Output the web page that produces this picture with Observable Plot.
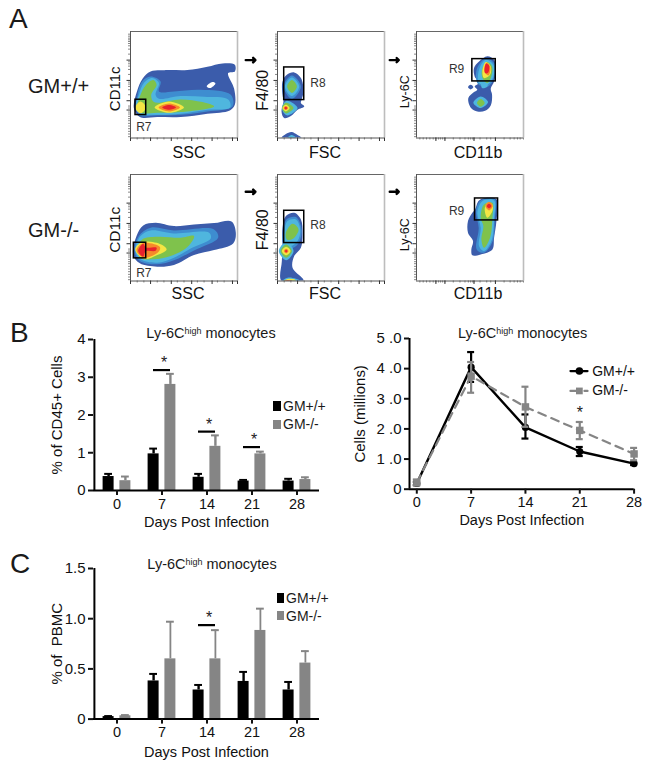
<!DOCTYPE html>
<html><head><meta charset="utf-8">
<script src="https://cdn.jsdelivr.net/npm/d3@7"></script>
<script src="https://cdn.jsdelivr.net/npm/@observablehq/plot@0.6"></script>
<style>
html,body{margin:0;padding:0;background:#fff;}
#page{position:relative;width:650px;height:768px;overflow:hidden;font-family:"Liberation Sans",Arial,sans-serif;color:#1a1a1a;}
#page svg{position:absolute;overflow:visible;background:transparent;}
.lab{position:absolute;line-height:1;white-space:nowrap;}
.swatch{position:absolute;}
.flow g[aria-label="line"]{filter:blur(0.7px);}
sup{font-size:0.62em;line-height:0;vertical-align:baseline;position:relative;top:-0.48em;}
</style></head><body><div id="page"></div>
<script>
// ---------- Panels B and C data ----------
const days = [0, 7, 14, 21, 28];
const dayTicks = [0, 7, 14, 21, 28];

const bWt = [0.37, 0.97, 0.35, 0.25, 0.25];
const bWtHi = [0.44, 1.11, 0.44, 0.28, 0.31];
const bKo = [0.26, 2.81, 1.17, 0.97, 0.29];
const bKoHi = [0.37, 3.09, 1.46, 1.03, 0.35];
const bSigDays = [7, 14, 21];
const bSigY = [3.19, 1.56, 1.15];

const lineWt = [0.19, 4.05, 2.05, 1.25, 0.85];
const lineWtLo = [0.14, 3.56, 1.68, 1.1, 0.8];
const lineWtHi = [0.24, 4.55, 2.48, 1.4, 0.9];
const lineKo = [0.22, 3.75, 2.73, 1.95, 1.17];
const lineKoLo = [0.12, 3.2, 2.07, 1.66, 0.96];
const lineKoHi = [0.32, 4.22, 3.4, 2.23, 1.37];
const lineYTicks = [0, 1, 2, 3, 4, 5];
const lineYLabels = ["0", "1 .0", "2 .0", "3 .0", "4 .0", "5 .0"];

const cWt = [0.025, 0.38, 0.29, 0.375, 0.29];
const cWtHi = [0.03, 0.45, 0.34, 0.47, 0.37];
const cKo = [0.033, 0.6, 0.6, 0.883, 0.558];
const cKoHi = [0.04, 0.97, 0.886, 1.1, 0.677];
const cSigDays = [14];
const cSigY = [0.936];
const cYTicks = [0, 0.5, 1, 1.5];
const cYLabels = ["0", "0.5", "1.0", "1.5"];

// ---------- Panel A: contour bands, in channel units 0-320 ----------
const p1 = [
 ["b",[[10,90],[20,142],[36,178],[60,200],[110,204],[170,204],[230,214],[275,224],[312,220],[312,200],[292,195],[310,148],[312,100],[297,83],[230,73],[150,63],[80,63],[28,63]]],
 ["w",[[228,155],[245,168],[254,164],[238,150]]],
 ["m",[[20,120],[35,170],[60,185],[90,170],[85,140],[130,140],[210,145],[300,130],[305,95],[230,80],[150,70],[80,68],[25,70]]],
 ["c",[[14,90],[25,130],[40,165],[65,180],[85,165],[75,130],[85,118],[150,126],[220,124],[292,116],[298,92],[230,85],[150,73],[80,70],[30,73]]],
 ["g",[[20,90],[30,130],[45,158],[68,174],[78,160],[62,130],[70,108],[150,116],[215,108],[250,95],[150,78],[80,76],[30,76]]],
 ["y",[[14,92],[30,110],[46,92],[30,74]]],
 ["y",[[72,92],[115,110],[160,92],[115,76]]],
 ["o",[[84,92],[115,104],[148,92],[115,80]]],
 ["r",[[95,92],[115,99],[136,92],[115,85]]],
];
const p2 = [
 ["b",[[15,130],[15,170],[28,190],[50,197],[70,180],[78,140],[72,115],[70,105],[80,95],[60,85],[40,66],[20,60],[12,80],[16,100],[18,112]]],
 ["b",[[12,0],[25,12],[42,18],[60,9],[72,0]]],
 ["m",[[18,155],[43,188],[70,155],[43,118]]],
 ["c",[[22,155],[43,182],[65,155],[43,126]]],
 ["c",[[30,0],[42,9],[56,0]]],
 ["g",[[29,155],[43,174],[58,155],[43,136]]],
 ["c",[[13,90],[28,112],[60,90],[28,68]]],
 ["g",[[14,90],[25,106],[48,90],[25,74]]],
 ["y",[[15,90],[25,100],[36,90],[25,80]]],
 ["o",[[18,90],[25,96],[32,90],[25,84]]],
 ["r",[[21,90],[25,94],[29,90],[25,86]]],
];
const p3 = [
 ["b",[[172,210],[187,230],[212,246],[232,235],[237,200],[232,170],[222,148],[226,130],[222,98],[205,82],[182,80],[163,90],[155,120],[172,138],[182,145],[174,155],[187,165],[174,185]]],
 ["b",[[154,153],[162,160],[170,153],[162,146]]],
 ["m",[[180,206],[207,240],[234,222],[232,182],[214,155],[184,162]]],
 ["c",[[187,205],[207,235],[230,220],[230,185],[212,160],[187,165]]],
 ["c",[[195,172],[210,172],[212,155],[196,150]]],
 ["c",[[170,106],[192,125],[214,108],[192,90]]],
 ["g",[[181,105],[192,117],[204,105],[192,94]]],
 ["g",[[200,175],[195,200],[210,228],[226,215],[222,180],[212,165]]],
 ["y",[[197,200],[207,228],[222,215],[220,190],[202,180]]],
 ["o",[[202,203],[210,226],[221,212],[215,188]]],
 ["r",[[205,195],[208,224],[217,218],[214,196]]],
];
const p4 = [
 ["b",[[8,80],[18,135],[38,167],[75,175],[130,165],[190,170],[250,174],[302,179],[315,145],[307,113],[250,93],[190,78],[130,48],[80,43],[28,53]]],
 ["m",[[12,90],[25,135],[60,160],[130,152],[250,155],[262,130],[190,92],[130,62],[80,50],[28,60]]],
 ["c",[[15,90],[30,135],[60,152],[130,143],[235,145],[240,128],[180,98],[130,70],[80,55],[30,65]]],
 ["g",[[20,92],[35,125],[80,133],[150,130],[190,135],[170,102],[120,75],[70,65],[30,70]]],
 ["y",[[14,95],[35,117],[92,110],[108,95],[80,78],[40,66]]],
 ["o",[[18,92],[38,114],[88,102],[84,88],[40,70]]],
 ["r",[[23,90],[38,112],[46,101],[78,100],[75,91],[45,89],[38,73]]],
];
const p5 = [
 ["b",[[15,160],[25,195],[50,205],[70,185],[75,145],[70,100],[50,75],[45,40],[75,8],[78,0],[12,0],[13,60],[15,100]]],
 ["m",[[17,150],[28,186],[55,192],[72,155],[62,112],[40,98],[18,110]]],
 ["c",[[20,145],[30,180],[55,185],[68,155],[60,120],[40,105],[20,115]]],
 ["c",[[4,90],[26,118],[48,90],[26,62]]],
 ["c",[[15,0],[30,10],[55,7],[70,0]]],
 ["g",[[25,145],[45,172],[63,155],[45,126],[28,125]]],
 ["g",[[9,90],[26,110],[43,90],[26,70]]],
 ["y",[[13,90],[26,103],[39,90],[26,77]]],
 ["y",[[18,0],[30,6],[50,5],[55,0]]],
 ["o",[[19,90],[26,97],[33,90],[26,83]]],
 ["r",[[22,90],[26,94],[30,90],[26,86]]],
 ["r",[[20,0],[30,3],[45,0]]],
];
const p6 = [
 ["b",[[175,215],[187,242],[212,250],[240,245],[239,180],[232,130],[227,95],[192,80],[167,77],[164,95],[169,120],[154,145],[154,180],[167,205]]],
 ["m",[[178,210],[192,242],[235,245],[234,185],[228,120],[202,85],[180,95],[186,160]]],
 ["c",[[182,205],[197,240],[232,242],[232,190],[224,120],[202,90],[187,105],[192,160]]],
 ["g",[[192,190],[202,230],[227,235],[227,190],[220,130],[202,100],[194,125],[200,165]]],
 ["y",[[204,215],[212,235],[227,230],[227,210],[212,190]]],
 ["o",[[206,225],[217,238],[228,225],[217,212]]],
 ["r",[[210,225],[217,232],[224,225],[217,218]]],
];
const bandColors = {b:"#3b5cab", m:"#3e8dd0", c:"#4fb6de", g:"#7fc24c", y:"#f4e544", o:"#f68a2a", r:"#e8222d", w:"#ffffff"};

const logTicks = [4,12,20,28,36,44,52,58,65,72,78,90,96,130,145,155,162,168,191,206,216,223,229,252,267,277,284,290,295,300,306,312];
const logMajor = [84,112,173,234];
const linTicks = [20,40,80,100,140,160,200,220,260,280];
const linMajor = [0,60,122,183,244,305,320];
const logXTicks = [10,20,30,40,50,58,66,72,78,85,110,130,145,155,162,168,172,190,210,222,236,262,280,292,302,310,320];
const logXMajor = [58,85,172,236];

// ---------- Layout helpers ----------
const page = document.getElementById("page");
const FONT = "Liberation Sans, Arial, sans-serif";
const BLACK = "#000";
const GRAY = "#858585";

function place(svg, left, top) {
  svg.style.left = left + "px";
  svg.style.top = top + "px";
  page.appendChild(svg);
}
function label(html, x, y, size, opts = {}) {
  const d = document.createElement("div");
  d.className = "lab";
  d.innerHTML = html;
  d.style.left = x + "px";
  d.style.top = y + "px";
  d.style.fontSize = size + "px";
  d.style.transform = `translate(${opts.center ? "-50%" : "0"},-50%)`;
  page.appendChild(d);
}
function swatch(x, y, w, h, color) {
  const d = document.createElement("div");
  d.className = "swatch";
  d.style.cssText = `left:${x}px;top:${y}px;width:${w}px;height:${h}px;background:${color}`;
  page.appendChild(d);
}

function flow(cfg) {
  const ML = 40, MR = 6, MT = 6, MB = 30, W = 107, H = 106.5;
  const layers = cfg.poly.map(([band, pts]) =>
    Plot.line(pts, {x: d => d[0], y: d => d[1], fill: bandColors[band], stroke: "none", curve: "catmull-rom-closed", clip: true}));
  const plot = Plot.plot({
    className: "flow",
    width: W + ML + MR, height: H + MT + MB,
    marginLeft: ML, marginRight: MR, marginTop: MT, marginBottom: MB,
    style: {fontFamily: FONT, color: "#222"},
    x: {domain: [0, 320], axis: null},
    y: {domain: [0, 320], axis: null},
    marks: [
      ...layers,
      Plot.ruleY([320], {stroke: "#666", strokeWidth: 1}),
      Plot.ruleX([320], {stroke: "#bdbdbd", strokeWidth: 1.6}),
      Plot.ruleX([0], {stroke: "#555", strokeWidth: 1}),
      Plot.ruleY([0], {stroke: "#555", strokeWidth: 1}),
      Plot.axisY(logTicks, {anchor: "left", tickSize: 2, fill: "none", stroke: "#555", strokeWidth: 0.7}),
      Plot.axisY(logMajor, {anchor: "left", tickSize: 3.5, fill: "none", stroke: "#333"}),
      Plot.axisX(cfg.logX ? logXTicks : linTicks, {anchor: "bottom", tickSize: 2, fill: "none", stroke: "#555", strokeWidth: 0.7}),
      Plot.axisX(cfg.logX ? logXMajor : linMajor, {anchor: "bottom", tickSize: 3.5, fill: "none", stroke: "#333"}),
      Plot.rect([cfg.gate], {x1: "x1", x2: "x2", y1: "y1", y2: "y2", fill: "none", stroke: "#000", strokeWidth: 1.5}),
      Plot.text([cfg.gate], {x: "tx", y: "ty", text: "name", textAnchor: "start", fontSize: 12, fill: "#333"}),
      Plot.text([cfg.ylabel], {frameAnchor: "left", textAnchor: "middle", rotate: -90, dx: cfg.ydx, dy: cfg.ydy, fontSize: cfg.ysize, fill: "#111"}),
      Plot.text([cfg.xlabel], {frameAnchor: "bottom", lineAnchor: "middle", dx: cfg.xdx, dy: cfg.xdy, fontSize: 16, fill: "#111"}),
      cfg.arrow ? Plot.arrow([cfg.arrow], {x1: "x1", x2: "x2", y1: "y", y2: "y", stroke: "#000", strokeWidth: 2.4, headLength: 7, headAngle: 90}) : null,
    ],
  });
  place(plot, cfg.left - ML, cfg.top - MT);
}

const rowA = 30.5, rowB = 173.5;
const colA = 130, colB = 277, colC = 416;

flow({poly: p1, left: colA, top: rowA, xlabel: "SSC", ylabel: "CD11c", ydx: -15, ydy: 4, ysize: 15, xdx: 5, xdy: 15,
  gate: {x1: 15, x2: 47, y1: 69, y2: 115, name: "R7", tx: 17, ty: 33}});
flow({poly: p2, left: colB, top: rowA, xlabel: "FSC", ylabel: "F4/80", ydx: -15, ydy: 5.5, ysize: 16, xdx: -6, xdy: 15,
  gate: {x1: 20, x2: 80, y1: 114, y2: 212, name: "R8", tx: 98, ty: 165}, arrow: {x1: -95, x2: -66, y: 234}});
flow({poly: p3, left: colC, top: rowA, logX: true, xlabel: "CD11b", ylabel: "Ly-6C", ydx: -12, ydy: 7, ysize: 12.5, xdx: 8, xdy: 15,
  gate: {x1: 167, x2: 237, y1: 170, y2: 237, name: "R9", tx: 97, ty: 207}, arrow: {x1: -80, x2: -53, y: 234}});
flow({poly: p4, left: colA, top: rowB, xlabel: "SSC", ylabel: "CD11c", ydx: -15, ydy: 2, ysize: 15.5, xdx: 4, xdy: 13,
  gate: {x1: 10, x2: 47, y1: 68, y2: 115, name: "R7", tx: 17, ty: 25}});
flow({poly: p5, left: colB, top: rowB, xlabel: "FSC", ylabel: "F4/80", ydx: -15, ydy: 2, ysize: 16, xdx: -6, xdy: 13,
  gate: {x1: 20, x2: 80, y1: 114, y2: 211, name: "R8", tx: 98, ty: 167}, arrow: {x1: -95, x2: -66, y: 268}});
flow({poly: p6, left: colC, top: rowB, logX: true, xlabel: "CD11b", ylabel: "Ly-6C", ydx: -12, ydy: 7, ysize: 12.5, xdx: 8, xdy: 13,
  gate: {x1: 175, x2: 244, y1: 182, y2: 248, name: "R9", tx: 97, ty: 210}, arrow: {x1: -80, x2: -53, y: 268}});

// ---------- Grouped bar charts ----------
function rows(hi, v) { return days.map((day, i) => ({day, v: v[i], hi: hi[i]})); }

function barChart(cfg) {
  const ML = 60, MR = 6, MT = 10, MB = 50, W = 226;
  const wt = rows(cfg.wtHi, cfg.wt), ko = rows(cfg.koHi, cfg.ko);
  const sig = cfg.sigDays.map((day, i) => ({day, y: cfg.sigY[i]}));
  const off = 8.4, ins = 17, capIns = 18.6;
  const group = (d, color, dx, ew) => [
    Plot.ruleX(d, {x: "day", y1: "v", y2: "hi", stroke: color, strokeWidth: ew, dx}),
    Plot.tickY(d, {x: "day", y: "hi", stroke: color, strokeWidth: 2, dx, insetLeft: capIns, insetRight: capIns}),
    Plot.barY(d, {x: "day", y: "v", fill: color, dx, insetLeft: ins, insetRight: ins}),
  ];
  const plot = Plot.plot({
    width: W + ML + MR, height: cfg.h + MT + MB,
    marginLeft: ML, marginRight: MR, marginTop: MT, marginBottom: MB,
    style: {fontFamily: FONT, color: "#111"},
    x: {type: "band", domain: days, padding: 0, axis: null},
    y: {domain: cfg.yDomain, axis: null},
    marks: [
      ...group(wt, BLACK, -off, 2.4),
      ...group(ko, GRAY, off, cfg.koErr),
      Plot.tickY(sig, {x: "day", y: "y", stroke: "#000", strokeWidth: 2.2, insetLeft: 14, insetRight: 14}),
      Plot.text(sig, {x: "day", y: "y", text: () => "*", dy: -7, dx: 2, fontSize: 16, fill: "#222"}),
      Plot.ruleY([0], {stroke: "#000", strokeWidth: 2}),
      Plot.ruleX([days[0]], {y1: cfg.yDomain[0], y2: cfg.yDomain[1], stroke: "#000", strokeWidth: 2, dx: -22.6}),
      Plot.axisY(cfg.yTicks, {anchor: "left", tickSize: 5, tickPadding: 3, strokeWidth: 2, fontSize: 15,
        tickFormat: (d) => cfg.yLabels[cfg.yTicks.indexOf(d)], label: cfg.yTitle, labelAnchor: "center", labelOffset: cfg.yOffset, labelArrow: "none"}),
      Plot.axisX(days, {anchor: "bottom", tickSize: 5, tickPadding: cfg.xPad, strokeWidth: 2, fontSize: 14.5,
        label: "Days Post Infection", labelAnchor: "center", labelOffset: cfg.xOffset, labelArrow: "none"}),
    ],
  });
  place(plot, 93 - ML, cfg.top - MT);
}

barChart({top: 339, h: 151, yDomain: [0, 4], yTicks: [0, 1, 2, 3, 4], yLabels: ["0", "1", "2", "3", "4"],
  wt: bWt, wtHi: bWtHi, ko: bKo, koHi: bKoHi, sigDays: bSigDays, sigY: bSigY, koErr: 2.4,
  yTitle: "% of CD45+ Cells", yOffset: 42, xPad: 3, xOffset: 36});
barChart({top: 567.7, h: 150.6, yDomain: [0, 1.5], yTicks: cYTicks, yLabels: cYLabels,
  wt: cWt, wtHi: cWtHi, ko: cKo, koHi: cKoHi, sigDays: cSigDays, sigY: cSigY, koErr: 1.8,
  yTitle: "% of\u00a0\u00a0PBMC", yOffset: 42, xPad: 3, xOffset: 38});

// ---------- Line chart ----------
(function () {
  const ML = 55, MR = 14, MT = 10, MB = 50, W = 224.6, H = 150.7;
  const wt = days.map((day, i) => ({day, v: lineWt[i], lo: lineWtLo[i], hi: lineWtHi[i]}));
  const ko = days.map((day, i) => ({day, v: lineKo[i], lo: lineKoLo[i], hi: lineKoHi[i]}));
  const caps = (d, f, color) => Plot.ruleY(d, {x1: r => r.day - 0.45, x2: r => r.day + 0.45, y: f, stroke: color, strokeWidth: 2.2});
  const legend = [
    {name: "GM+/+", y: 3.92, color: BLACK, symbol: "circle", dash: null},
    {name: "GM-/-", y: 3.26, color: GRAY, symbol: "square", dash: "8 6"},
  ];
  const plot = Plot.plot({
    width: W + ML + MR, height: H + MT + MB,
    marginLeft: ML, marginRight: MR, marginTop: MT, marginBottom: MB,
    style: {fontFamily: FONT, color: "#111"},
    x: {domain: [-0.94, 28], axis: null},
    y: {domain: [0, 5], axis: null},
    marks: [
      Plot.ruleX(wt, {x: "day", y1: "lo", y2: "hi", stroke: BLACK, strokeWidth: 2.2}),
      caps(wt, "lo", BLACK), caps(wt, "hi", BLACK),
      Plot.line(wt, {x: "day", y: "v", stroke: BLACK, strokeWidth: 2.4}),
      Plot.dot(wt, {x: "day", y: "v", fill: BLACK, r: 3.6, symbol: "circle"}),
      Plot.ruleX(ko, {x: "day", y1: "lo", y2: "hi", stroke: GRAY, strokeWidth: 2.2}),
      caps(ko, "lo", GRAY), caps(ko, "hi", GRAY),
      Plot.line(ko, {x: "day", y: "v", stroke: GRAY, strokeWidth: 2.2, strokeDasharray: "8 6"}),
      Plot.dot(ko, {x: "day", y: "v", fill: GRAY, r: 4.2, symbol: "square"}),
      Plot.text(["*"], {x: days[3], y: 2.52, fontSize: 16, fill: "#222"}),
      ...legend.map(l => Plot.line([{x: 19.8, y: l.y}, {x: 22, y: l.y}], {x: "x", y: "y", stroke: l.color, strokeWidth: 2.2, strokeDasharray: l.dash})),
      Plot.dot(legend, {x: () => 20.95, y: "y", fill: "color", symbol: "symbol", r: 3.8}),
      Plot.text(legend, {x: () => 22.6, y: "y", text: "name", textAnchor: "start", fontSize: 14, fill: "#111"}),
      Plot.ruleY([0], {stroke: "#000", strokeWidth: 2}),
      Plot.ruleX([-0.94], {y1: 0, y2: 5, stroke: "#000", strokeWidth: 2}),
      Plot.axisY(lineYTicks, {anchor: "left", tickSize: 5, tickPadding: 3, strokeWidth: 2, fontSize: 15,
        tickFormat: d => lineYLabels[lineYTicks.indexOf(d)], label: "Cells (millions)", labelAnchor: "center", labelOffset: 55, labelArrow: "none"}),
      Plot.axisX(dayTicks, {anchor: "bottom", tickSize: 5, tickPadding: 3, strokeWidth: 2, fontSize: 14.5,
        label: "Days Post Infection", labelAnchor: "center", labelOffset: 36, labelArrow: "none"}),
    ],
  });
  place(plot, 408.7 - ML, 338.3 - MT);
})();

// ---------- Titles, letters and legends ----------
label("A", 9, 19, 28);
label("B", 10, 333, 28);
label("C", 10, 564, 28);
label("GM+/+", 28, 86, 20);
label("GM-/-", 28, 230, 20);
label("Ly-6C<sup>high</sup> monocytes", 211, 333, 14.5, {center: true});
label("Ly-6C<sup>high</sup> monocytes", 522.7, 333, 14.5, {center: true});
label("Ly-6C<sup>high</sup> monocytes", 212, 564, 14.5, {center: true});

swatch(273, 401, 7.5, 10, "#000");
label("GM+/+", 283, 406, 14);
swatch(273, 419.5, 7.5, 9, GRAY);
label("GM-/-", 283, 424, 14);

swatch(277, 593, 7, 9.5, "#000");
label("GM+/+", 286, 597.7, 14);
swatch(277, 611, 7, 9, GRAY);
label("GM-/-", 286, 615.5, 14);
</script></body></html>
